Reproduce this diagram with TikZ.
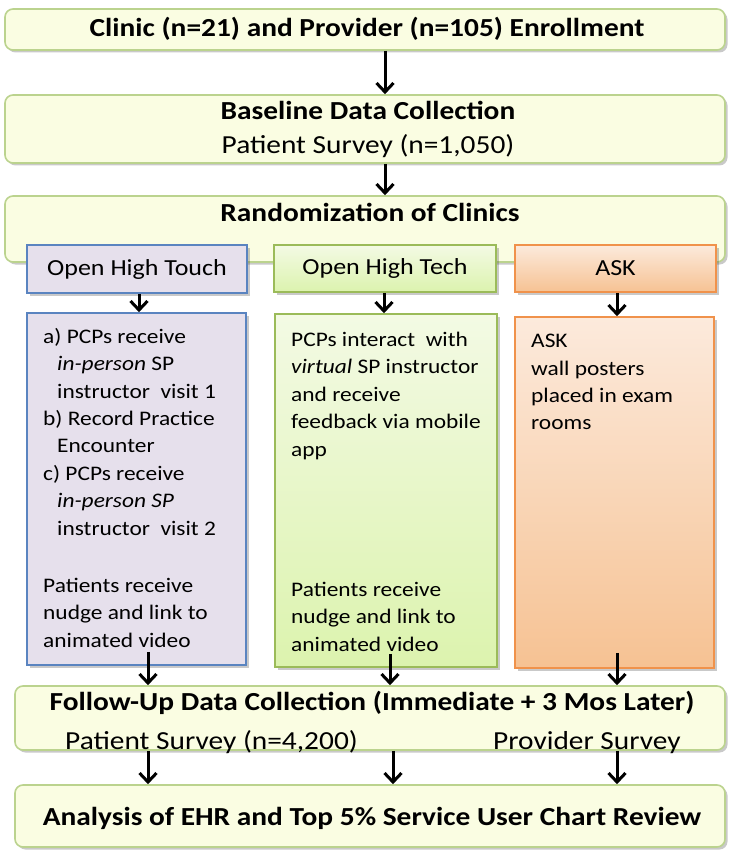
\documentclass[tikz,border=0pt]{standalone}
\usepackage{fontspec}
\setmainfont{Carlito}[FakeStretch=1.13]
\usetikzlibrary{shadows,arrows.meta,fit}

\definecolor{stagefill}{HTML}{FAFDE2}
\definecolor{stageline}{HTML}{BBD38E}
\definecolor{touchfill}{HTML}{E6E0EC}
\definecolor{touchline}{HTML}{5A84C0}
\definecolor{techtop}{HTML}{F3FAE4}
\definecolor{techbot}{HTML}{DCF3AE}
\definecolor{techline}{HTML}{9BBB59}
\definecolor{asktop}{HTML}{FCEADC}
\definecolor{askbot}{HTML}{F6C293}
\definecolor{askline}{HTML}{F0924B}

\tikzset{
  shade/.style={drop shadow={shadow xshift=2.5pt,shadow yshift=-2.5pt,opacity=.3,fill=black!70}},
  stage/.style={draw=stageline,line width=1.6pt,fill=stagefill,rounded corners=8pt,shade,inner sep=0pt},
  touchbox/.style={draw=touchline,line width=1.6pt,fill=touchfill,shade,inner sep=0pt},
  techbox/.style={draw=techline,line width=1.6pt,top color=techtop,bottom color=techbot,shade,inner sep=0pt},
  askbox/.style={draw=askline,line width=1.6pt,top color=asktop,bottom color=askbot,shade,inner sep=0pt},
  title/.style={font=\fontsize{26}{30}\selectfont\bfseries,inner sep=0pt},
  subtitle/.style={font=\fontsize{26}{30}\selectfont,inner sep=0pt},
  armlabel/.style={font=\fontsize{23}{27}\selectfont,inner sep=0pt},
  body/.style={font=\fontsize{20.7}{27.4}\selectfont,align=left,anchor=north west,inner sep=0pt},
  arr/.style={line width=3pt,-{Straight Barb[length=9pt,width=17pt,line width=3pt]}},
}

\begin{document}
\begin{tikzpicture}[x=1pt,y=-1pt]
\useasboundingbox (0,0) rectangle (728,850);

% stage boxes
\node[stage,fit={(5,9) (725,50)}] (enrol) {};
\node[title] (enrolT) at (367,29) {Clinic (n=21) and Provider (n=105) Enrollment};

\node[stage,fit={(5,95) (725,163)}] (base) {};
\node[title] (baseT) at (368,110) {Baseline Data Collection};
\node[subtitle] (baseS) at (368,146) {Patient Survey (n=1,050)};

\node[stage,fit={(5,196) (725,262)}] (rand) {};
\node[title] (randT) at (370,212) {Randomization of Clinics};

% arm headers
\node[touchbox,fit={(27,245) (247,293)}] (hTouch) {};
\node[armlabel] at (hTouch.center) {Open High Touch};
\node[techbox,fit={(274,245) (496,292)}] (hTech) {};
\node[armlabel] at (hTech.center) {Open High Tech};
\node[askbox,fit={(515,245) (716,292)}] (hAsk) {};
\node[armlabel] at (hAsk.center) {ASK};

% arm details
\node[touchbox,fit={(27,313) (246,665)}] (bTouch) {};
\node[techbox,fit={(275,314) (497,667)}] (bTech) {};
\node[askbox,fit={(515,317) (714,668)}] (bAsk) {};

\node[body] (tTouch) at (43,328) {a) PCPs receive\\
\hspace*{14pt}\textit{in-person} SP\\
\hspace*{14pt}instructor\ \ visit 1\\
b) Record Practice\\
\hspace*{14pt}Encounter\\
c) PCPs receive\\
\hspace*{14pt}\textit{in-person SP}\\
\hspace*{14pt}instructor\ \ visit 2};
\node[body] (pTouch) at (43,578) {Patients receive\\nudge and link to\\animated video};

\node[body] (tTech) at (291,332) {PCPs interact\ \ with\\
\textit{virtual} SP instructor\\
and receive\\
feedback via mobile\\
app};
\node[body] (pTech) at (291,582) {Patients receive\\nudge and link to\\animated video};

\node[body] (tAsk) at (531,334) {ASK\\wall posters\\placed in exam\\rooms};

% follow-up and analysis
\node[stage,fit={(15,686) (725,750)}] (follow) {};
\node[title] (followT) at (372,703) {Follow-Up Data Collection (Immediate + 3 Mos Later)};
\node[subtitle,anchor=base west] (followP) at (65,749) {Patient Survey (n=4,200)};
\node[subtitle,anchor=base west] (followQ) at (493,749) {Provider Survey};

\node[stage,fit={(15,785) (725,847)}] (anal) {};
\node[title] (analT) at (372,818) {Analysis of EHR and Top 5\% Service User Chart Review};

% connectors
\draw[arr] ([xshift=20pt]enrol.south) -- ([xshift=20pt]enrol.south |- base.north);
\draw[arr] ([xshift=20pt]base.south) -- ([xshift=20pt]base.south |- rand.north);

\draw[arr] ([xshift=2pt]hTouch.south) -- ([xshift=2pt]hTouch.south |- bTouch.north);
\draw[arr] ([xshift=-1pt]hTech.south) -- ([xshift=-1pt]hTech.south |- bTech.north);
\draw[arr] ([xshift=1.5pt]hAsk.south) -- ([xshift=1.5pt]hAsk.south |- bAsk.north);

\draw[arr] ([xshift=11.5pt,yshift=14pt]bTouch.south) -- ([xshift=11.5pt]bTouch.south |- follow.north);
\draw[arr] ([xshift=4pt,yshift=14pt]bTech.south) -- ([xshift=4pt]bTech.south |- follow.north);
\draw[arr] ([xshift=2.5pt,yshift=16pt]bAsk.south) -- ([xshift=2.5pt]bAsk.south |- follow.north);

\draw[arr] ([xshift=11.5pt]bTouch.south |- follow.south) -- ([xshift=11.5pt]bTouch.south |- anal.north);
\draw[arr] ([xshift=7pt]bTech.south |- follow.south) -- ([xshift=7pt]bTech.south |- anal.north);
\draw[arr] ([xshift=2.5pt]bAsk.south |- follow.south) -- ([xshift=2.5pt]bAsk.south |- anal.north);
\end{tikzpicture}
\end{document}
